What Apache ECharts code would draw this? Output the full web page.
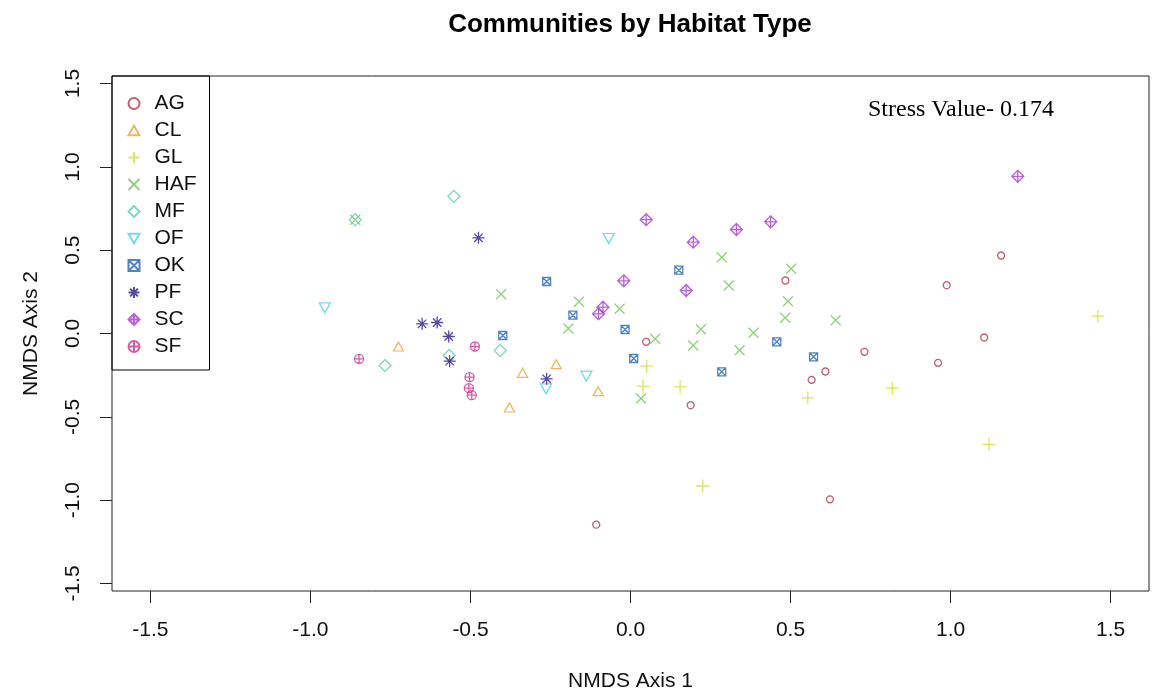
<!DOCTYPE html>
<html>
<head>
<meta charset="utf-8">
<title>Communities by Habitat Type</title>
<script src="https://cdn.jsdelivr.net/npm/echarts@6/dist/echarts.min.js"></script>
<style>
  html, body { margin: 0; padding: 0; background: #fff; }
  #main { width: 1152px; height: 696px; }
</style>
</head>
<body>
<div id="main"></div>
<script>
// NMDS scores, one array per habitat type: [axis1, axis2]
const AG = [[0.049, -0.050], [-0.107, -1.147], [0.188, -0.430], [0.484, 0.318], [0.731, -0.110],
            [0.609, -0.228], [0.566, -0.278], [0.623, -0.995], [0.961, -0.176], [0.988, 0.290],
            [1.105, -0.024], [1.158, 0.468]];
const CL = [[-0.725, -0.078], [-0.378, -0.444], [-0.337, -0.236], [-0.232, -0.184], [-0.101, -0.346]];
const GL = [[0.051, -0.196], [0.039, -0.316], [0.155, -0.320], [0.226, -0.915], [0.554, -0.386],
            [0.818, -0.328], [1.460, 0.104], [1.120, -0.665]];
const HAF = [[-0.860, 0.683], [-0.404, 0.236], [-0.161, 0.190], [-0.194, 0.030], [-0.034, 0.148],
             [0.077, -0.032], [0.033, -0.390], [0.285, 0.458], [0.307, 0.288], [0.220, 0.026],
             [0.196, -0.072], [0.384, 0.004], [0.341, -0.100], [0.502, 0.388], [0.492, 0.194],
             [0.483, 0.094], [0.641, 0.080]];
const MF = [[-0.860, 0.683], [-0.767, -0.192], [-0.566, -0.132], [-0.552, 0.823], [-0.407, -0.102]];
const OF = [[-0.955, 0.154], [-0.264, -0.332], [-0.138, -0.256], [-0.068, 0.570]];
const OK = [[-0.399, -0.012], [-0.262, 0.312], [-0.180, 0.110], [-0.017, 0.024], [0.010, -0.150],
            [0.151, 0.380], [0.285, -0.230], [0.457, -0.050], [0.572, -0.140]];
const PF = [[-0.651, 0.058], [-0.604, 0.066], [-0.568, -0.018], [-0.565, -0.166], [-0.475, 0.574],
            [-0.262, -0.272]];
const SC = [[0.049, 0.683], [-0.021, 0.316], [-0.086, 0.158], [-0.100, 0.118], [0.196, 0.548],
            [0.174, 0.258], [0.331, 0.624], [0.438, 0.670], [1.210, 0.943]];
const SF = [[-0.848, -0.152], [-0.486, -0.078], [-0.503, -0.262], [-0.505, -0.328], [-0.496, -0.370]];

const groups = ['AG', 'CL', 'GL', 'HAF', 'MF', 'OF', 'OK', 'PF', 'SC', 'SF'];
const groupData = [AG, CL, GL, HAF, MF, OF, OK, PF, SC, SF];
const axisTicks = [-1.5, -1.0, -0.5, 0.0, 0.5, 1.0, 1.5];

// R pch-like symbols
const symbols = {
    AG:  { s: 'circle', size: 7, color: '#b03a48' },
    CL:  { s: 'path://M5 0L10 8.66L0 8.66Z', size: [10, 9], color: '#e3a640' },
    GL:  { s: 'path://M5 0L5 10M0 5L10 5', size: 13, color: '#d3e02c' },
    HAF: { s: 'path://M0 0L10 10M10 0L0 10', size: 10, color: '#76c65a' },
    MF:  { s: 'path://M5 0L10 5L5 10L0 5Z', size: 12, color: '#62cfaa' },
    OF:  { s: 'path://M0 0L10 0L5 8.66Z', size: [11, 10], color: '#50d2de' },
    OK:  { s: 'path://M0 0L10 0L10 10L0 10ZM0 0L10 10M10 0L0 10', size: 8, color: '#2467b2' },
    PF:  { s: 'path://M5 0L5 10M0 5L10 5M1.5 1.5L8.5 8.5M8.5 1.5L1.5 8.5', size: 12, color: '#2b1c8f' },
    SC:  { s: 'path://M5 0L10 5L5 10L0 5ZM5 0L5 10M0 5L10 5', size: 12, color: '#a53bd0' },
    SF:  { s: 'path://M0 5A5 5 0 1 0 10 5A5 5 0 1 0 0 5ZM5 0L5 10M0 5L10 5', size: 9, color: '#d32f8e' }
};

const font = 'Liberation Sans, Arial, sans-serif';

let myChart = echarts.init(document.getElementById('main'));

let series = groups.map(function (g, i) {
    return {
        name: g,
        type: 'scatter',
        data: groupData[i],
        symbol: symbols[g].s,
        symbolSize: symbols[g].size,
        itemStyle: {
            color: 'none',
            borderColor: symbols[g].color,
            borderWidth: 1.3
        }
    };
});

let option = {
    animation: false,
    backgroundColor: '#fff',
    title: {
        text: 'Communities by Habitat Type',
        left: 630,
        top: 12,
        padding: 0,
        textAlign: 'center',
        textStyle: { fontFamily: font, fontSize: 26, fontWeight: 'bold', color: '#000' }
    },
    legend: {
        orient: 'vertical',
        left: 112,
        top: 76,
        padding: [17, 13, 13, 14],
        itemGap: 6,
        itemWidth: 11,
        itemHeight: 11,
        borderColor: '#000',
        borderWidth: 1,
        selectedMode: false,
        data: groups,
        textStyle: { fontFamily: font, fontSize: 21, lineHeight: 21, color: '#111', padding: [0, 0, 0, 10] }
    },
    grid: {
        left: 112,
        right: 3,
        top: 76,
        bottom: 105,
        show: true,
        borderColor: '#222',
        borderWidth: 1,
        containLabel: false,
        outerBoundsMode: 'none'
    },
    xAxis: {
        type: 'value',
        min: -1.62,
        max: 1.62,
        name: 'NMDS Axis 1',
        nameLocation: 'middle',
        nameGap: 80,
        nameTextStyle: { fontFamily: font, fontSize: 21, color: '#111' },
        axisLine: { show: false, onZero: false },
        splitLine: { show: false },
        axisTick: { show: true, length: 12, inside: false, customValues: axisTicks, lineStyle: { color: '#222' } },
        axisLabel: {
            customValues: axisTicks,
            margin: 29,
            fontFamily: font, fontSize: 21, color: '#111',
            formatter: function (v) { return v.toFixed(1); }
        }
    },
    yAxis: {
        type: 'value',
        min: -1.545,
        max: 1.545,
        name: 'NMDS Axis 2',
        nameLocation: 'middle',
        nameGap: 70,
        nameTextStyle: { fontFamily: font, fontSize: 21, color: '#111' },
        axisLine: { show: false, onZero: false },
        splitLine: { show: false },
        axisTick: { show: true, length: 12, inside: false, customValues: axisTicks, lineStyle: { color: '#222' } },
        axisLabel: {
            customValues: axisTicks,
            rotate: 90,
            margin: 28,
            fontFamily: font, fontSize: 21, color: '#111',
            formatter: function (v) { return v.toFixed(1); }
        }
    },
    graphic: [{
        type: 'text',
        left: 868,
        top: 98,
        style: {
            text: 'Stress Value- 0.174',
            font: '24px "Liberation Serif", "Times New Roman", serif',
            fill: '#000'
        }
    }],
    series: series
};

myChart.setOption(option);
</script>
</body>
</html>
